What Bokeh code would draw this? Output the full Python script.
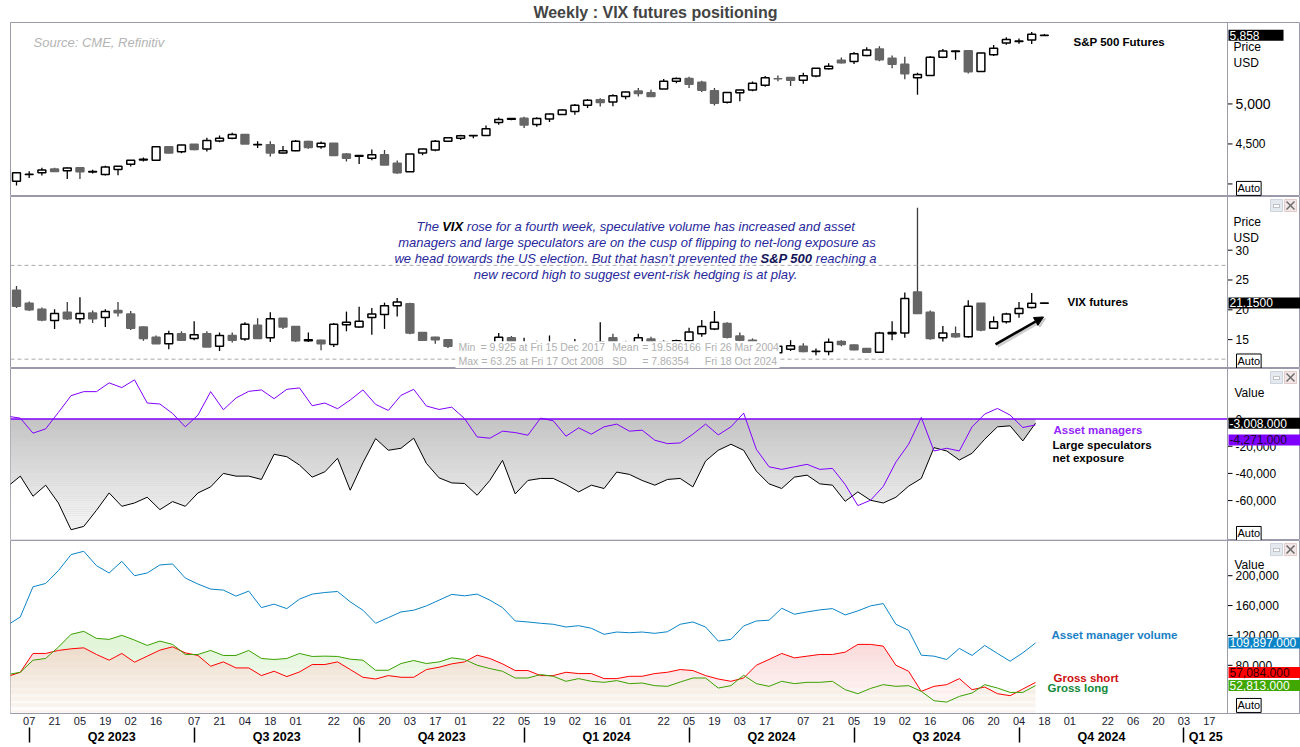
import numpy as np
import pandas as pd
from bokeh.plotting import figure
from bokeh.layouts import column
from bokeh.models import (Range1d, FixedTicker, LinearAxis, Label, Span,
                          BoxAnnotation, Arrow, NormalHead, ColumnDataSource)
from bokeh.embed import file_html
from bokeh.resources import INLINE

FONT = "Liberation Sans"
first_week = pd.Timestamp("2023-03-31")   # week-ending date of the first candle

# ---------------- S&P 500 futures, weekly OHLC ----------------
spx_open = [4033, 4118, 4139, 4186, 4164, 4202, 4150, 4118, 4182, 4246,
            4300, 4297, 4466, 4402, 4495, 4436, 4538, 4572, 4619, 4490,
            4491, 4386, 4415, 4529, 4466, 4508, 4373, 4345, 4322, 4364,
            4258, 4152, 4386, 4423, 4533, 4572, 4601, 4606, 4767, 4810,
            4822, 4742, 4813, 4869, 4907, 4983, 5051, 5025, 5093, 5161,
            5141, 5187, 5284, 5318, 5271, 5165, 5021, 5140, 5174, 5234,
            5316, 5331, 5297, 5348, 5441, 5547, 5530, 5607, 5687, 5572,
            5496, 5327, 5356, 5583, 5655, 5666, 5407, 5614, 5763, 5782,
            5798, 5856]
spx_high = [4145, 4160, 4202, 4202, 4205, 4210, 4176, 4227, 4222, 4300,
            4330, 4470, 4468, 4490, 4497, 4576, 4606, 4640, 4625, 4533,
            4533, 4475, 4550, 4540, 4530, 4510, 4385, 4358, 4432, 4424,
            4292, 4375, 4440, 4550, 4580, 4615, 4608, 4730, 4830, 4825,
            4840, 4835, 4880, 4935, 5000, 5063, 5072, 5120, 5155, 5200,
            5178, 5313, 5330, 5340, 5290, 5200, 5150, 5177, 5280, 5350,
            5356, 5335, 5390, 5450, 5510, 5580, 5650, 5708, 5720, 5606,
            5590, 5390, 5600, 5687, 5668, 5670, 5640, 5738, 5835, 5818,
            5900, 5875]
spx_low = [3979, 4075, 4106, 4150, 4063, 4063, 4130, 4106, 4110, 4217,
           4280, 4295, 4384, 4385, 4420, 4406, 4521, 4560, 4498, 4449,
           4343, 4380, 4410, 4440, 4440, 4354, 4280, 4250, 4297, 4236,
           4127, 4150, 4360, 4410, 4525, 4550, 4570, 4600, 4740, 4795,
           4700, 4715, 4775, 4865, 4865, 4950, 4968, 4970, 5060, 5093,
           5093, 5187, 5260, 5199, 5148, 4979, 5005, 5034, 5160, 5215,
           5284, 5225, 5253, 5335, 5430, 5505, 5500, 5597, 5535, 5445,
           5309, 5114, 5350, 5570, 5551, 5380, 5400, 5600, 5740, 5751,
           5750, 5850]
spx_close = [4139, 4120, 4173, 4157, 4199, 4152, 4154, 4211, 4220, 4297,
             4310, 4466, 4386, 4487, 4432, 4542, 4572, 4619, 4500, 4492,
             4386, 4415, 4533, 4457, 4508, 4356, 4322, 4356, 4364, 4237,
             4139, 4373, 4436, 4533, 4576, 4602, 4607, 4691, 4805, 4818,
             4737, 4818, 4873, 4924, 4983, 5047, 5017, 5102, 5149, 5131,
             5093, 5284, 5318, 5246, 5170, 5009, 5144, 5174, 5258, 5327,
             5314, 5297, 5352, 5445, 5471, 5514, 5628, 5674, 5551, 5496,
             5378, 5369, 5583, 5661, 5661, 5403, 5636, 5696, 5806, 5788,
             5870, 5858]

# ---------------- VIX futures, weekly OHLC ----------------
vix_open = [23.3, 21.1, 20.1, 18.2, 19.6, 18.5, 19.45, 18.7, 19.9, 19.3,
            17.1, 15.4, 14.3, 16.0, 15.2, 16.0, 13.9, 15.7, 15.1, 17.4,
            15.3, 18.6, 17.2, 14.8, 14.9, 14.2, 17.5, 17.1, 18.7, 19.2,
            20.7, 21.0, 16.2, 15.4, 15.0, 14.0, 13.6, 13.4, 13.2, 15.3,
            14.0, 14.3, 13.9, 14.4, 14.0, 14.3, 14.0, 15.3, 14.5, 14.2,
            15.1, 14.6, 14.4, 14.8, 16.0, 16.8, 17.7, 15.6, 14.9, 14.2,
            12.8, 13.4, 13.9, 13.0, 13.0, 14.7, 14.1, 13.5, 12.9, 16.0,
            16.1, 23.0, 19.6, 15.3, 16.0, 15.5, 21.1, 16.9, 18.0, 19.4,
            20.4, 21.1]
vix_high = [24.0, 21.4, 20.4, 20.1, 21.3, 22.1, 19.9, 20.1, 21.3, 19.8,
            17.2, 15.7, 16.5, 16.4, 18.1, 16.4, 16.2, 16.2, 17.9, 18.6,
            19.6, 18.6, 17.3, 16.2, 15.0, 17.8, 19.7, 20.5, 20.3, 21.2,
            22.0, 21.2, 16.2, 15.5, 15.0, 14.7, 14.2, 14.0, 16.1, 15.6,
            15.3, 14.8, 15.7, 14.7, 15.1, 14.6, 17.9, 16.0, 14.8, 16.0,
            15.5, 14.9, 15.0, 17.0, 18.3, 19.8, 17.9, 16.2, 15.2, 14.5,
            14.2, 14.9, 14.4, 13.5, 15.2, 14.9, 14.2, 13.6, 16.3, 18.1,
            22.9, 37.1, 19.9, 17.3, 17.2, 21.6, 21.1, 18.9, 19.5, 21.3,
            22.8, 21.2]
vix_low = [20.3, 19.8, 18.1, 16.8, 18.3, 17.7, 17.8, 17.1, 18.9, 16.6,
           14.8, 14.3, 13.4, 14.8, 14.9, 13.75, 13.1, 14.5, 14.8, 15.1,
           14.6, 16.8, 14.6, 14.6, 13.2, 13.75, 16.4, 17.0, 15.8, 16.8,
           18.9, 15.9, 14.8, 14.3, 13.6, 13.2, 12.9, 12.8, 13.0, 13.8,
           13.6, 13.6, 13.7, 13.8, 13.6, 13.7, 13.8, 14.2, 13.9, 14.0,
           14.3, 14.0, 14.1, 14.5, 15.5, 16.6, 15.2, 14.7, 13.9, 13.5,
           12.6, 13.1, 12.9, 12.4, 12.4, 13.9, 13.2, 12.8, 12.8, 14.9,
           15.3, 19.3, 15.0, 14.7, 15.3, 15.3, 16.4, 16.8, 17.7, 18.65,
           20.2, 21.1]
vix_close = [20.6, 20.0, 18.3, 19.4, 18.5, 19.4, 18.5, 19.7, 19.5, 16.9,
             15.2, 14.3, 16.0, 14.9, 15.8, 13.75, 15.7, 14.9, 17.6, 15.2,
             18.5, 17.1, 14.8, 15.0, 14.3, 17.6, 17.9, 18.1, 19.3, 20.7,
             21.3, 16.1, 14.9, 15.0, 13.9, 13.6, 13.3, 13.1, 15.4, 14.1,
             14.3, 13.9, 14.4, 14.0, 14.3, 14.0, 14.6, 14.5, 14.2, 15.3,
             14.6, 14.4, 14.8, 16.3, 17.2, 17.9, 15.4, 14.9, 14.2, 13.9,
             13.9, 13.97, 13.0, 13.05, 14.55, 14.2, 13.3, 12.9, 16.1, 16.2,
             21.9, 19.4, 15.2, 16.1, 15.5, 20.6, 16.6, 18.0, 19.3, 20.2,
             21.1, 21.15]
vix_min, vix_max, vix_mean, vix_sd = 9.925, 63.25, 19.586166, 7.86354

# ---------------- CFTC positioning (weekly, starting the week before the first candle) ----------------
am_net = [2100, 700, -10370, -7180, 4890, 17260, 20220, 20220, 26670, 23190,
          28890, 11850, 11110, 4150, -5700, 2960, 20220, 6890, 15550, 20440,
          21480, 15040, 21930, 22960, 9850, 11850, 7630, 14070, 21480, 10810,
          6370, 17480, 21930, 9630, 7110, 8800, 450, -13110, -14070, -8890,
          -9920, -11850, 740, -1260, -12590, -6440, -11110, -5700, -3700, -8890,
          -8150, -15550, -18070, -17550, -11110, -3700, -11630, -5700, 4440, -22220,
          -35110, -37040, -35110, -33330, -37040, -36300, -48150, -63700, -59770, -49660,
          -31630, -18520, 1190, -23480, -21480, -23480, -5700, 3700, 7850, 2960,
          -6220, -4271]
ls_net = [-49630, -42000, -56810, -48660, -61770, -81480, -79030, -67180, -54370, -64220,
          -61770, -57550, -66660, -60740, -64220, -54370, -49920, -40000, -42000, -42000,
          -44440, -25930, -27700, -33850, -42740, -38810, -28890, -52370, -32150, -14370,
          -22960, -21480, -14070, -32590, -43260, -47000, -47400, -56070, -45180, -30370,
          -55110, -45180, -43700, -43700, -48150, -53630, -48660, -51110, -39030, -40740,
          -45180, -48660, -44440, -43700, -49920, -30890, -22960, -18520, -22960, -38290,
          -47700, -51110, -42740, -41260, -47700, -48660, -60520, -53630, -59770, -61770,
          -57550, -49400, -43700, -21030, -23480, -30150, -25190, -14810, -5700, -4960,
          -16070, -3008]
am_volume = [134000, 144770, 185180, 189630, 206740, 228290, 232730, 213470, 203640, 219260,
             200000, 203640, 214410, 215760, 196900, 188820, 182080, 180740, 172660, 179390,
             157300, 161880, 155950, 168620, 175350, 177500, 178850, 164980, 153800, 136290,
             143830, 151510, 153800, 159590, 167270, 175000, 173060, 175350, 167270, 157300,
             139390, 138040, 136290, 134940, 131300, 133050, 129550, 121470, 124570, 123630,
             124570, 122820, 124970, 134940, 138040, 131300, 112450, 114730, 132650, 139390,
             140330, 156430, 148410, 151510, 154200, 155950, 147470, 152850, 159590, 162690,
             134940, 126860, 93590, 92240, 87790, 102610, 93180, 106650, 95880, 85500,
             96690, 109897]
gross_long = [67590, 70690, 86850, 89140, 104360, 121470, 125510, 116080, 114730, 120120,
              113790, 106650, 112450, 108000, 94530, 94530, 99920, 93180, 93180, 99920,
              89140, 87790, 89140, 95880, 91840, 92290, 91840, 88200, 86850, 73380,
              73380, 82400, 86450, 82400, 84560, 90000, 87790, 80120, 75670, 72040,
              63000, 63000, 67590, 65300, 58570, 62200, 58570, 57220, 59510, 55470,
              56280, 52770, 51830, 57620, 63000, 63000, 49550, 52770, 66650, 55470,
              51830, 58570, 55470, 57220, 57220, 58570, 47390, 41990, 49000, 54120,
              51830, 52770, 45100, 32570, 30770, 38360, 42900, 54120, 49550, 43750,
              43750, 52813]
gross_short = [65030, 70690, 95880, 95880, 99920, 102080, 103420, 94530, 86850, 95880,
               84160, 92240, 100320, 104770, 96690, 93180, 78770, 84560, 76480, 76480,
               66240, 72040, 64890, 71090, 81060, 81060, 84560, 74320, 63950, 61660,
               66240, 63950, 63950, 74320, 77420, 81950, 84560, 93590, 89140, 81950,
               72990, 72990, 66240, 66240, 70690, 68940, 68940, 62200, 62200, 65300,
               65300, 68940, 70690, 74320, 72990, 66240, 61660, 58570, 63000, 80120,
               87790, 95880, 89950, 92240, 94530, 94530, 97620, 108000, 108000, 105710,
               80120, 72040, 45100, 51830, 54120, 62200, 47390, 50900, 41990, 39300,
               48190, 57084]

# ---------------- axis labels ----------------
tick_dates = ["2023-04-07", "2023-04-21", "2023-05-05", "2023-05-19", "2023-06-02", "2023-06-16",
              "2023-07-07", "2023-07-21", "2023-08-04", "2023-08-18", "2023-09-01", "2023-09-22",
              "2023-10-06", "2023-10-20", "2023-11-03", "2023-11-17", "2023-12-01", "2023-12-22",
              "2024-01-05", "2024-01-19", "2024-02-02", "2024-02-16", "2024-03-01", "2024-03-22",
              "2024-04-05", "2024-04-19", "2024-05-03", "2024-05-17", "2024-06-07", "2024-06-21",
              "2024-07-05", "2024-07-19", "2024-08-02", "2024-08-16", "2024-09-06", "2024-09-20",
              "2024-10-04", "2024-10-18", "2024-11-01", "2024-11-22", "2024-12-06", "2024-12-20",
              "2025-01-03", "2025-01-17"]
quarter_starts = ["2023-04-07", "2023-07-07", "2023-10-06", "2024-01-05",
                  "2024-04-05", "2024-07-05", "2024-10-04", "2025-01-03"]
quarter_labels = ["Q2 2023", "Q3 2023", "Q4 2023", "Q1 2024", "Q2 2024", "Q3 2024", "Q4 2024", "Q1 25"]
spx_ticks = [4000, 4500, 5000]
spx_tick_labels = ["", "4,500", "5,000"]
vix_ticks = [15, 20, 25, 30]
net_ticks = [-60000, -40000, -20000, 0]
vol_ticks = [80000, 120000, 160000, 200000]

# ---------------- layout helpers ----------------
PX_PER_WEEK = 12.69


def px2wk(px):            # horizontal page pixel -> week index
    return (px - 16) / PX_PER_WEEK


def week_of(d):
    return (pd.Timestamp(d) - first_week).days / 7.0


weeks = np.arange(len(spx_close))
cot_weeks = np.arange(-1, len(am_net) - 1) + 0.3
X_LO, X_HI = px2wk(10), px2wk(1300)
AXIS_X = px2wk(1227)
tick_pos = [week_of(d) for d in tick_dates]
tick_text = [pd.Timestamp(d).strftime("%d") for d in tick_dates]
q_start = [week_of(d) for d in quarter_starts]
q_mid = [round((a + b) / 2, 3) for a, b in zip(q_start, q_start[1:] + [AXIS_X])]

GREY = "#9a9aaa"
xr = Range1d(X_LO, X_HI)


def panel(height, y0, y1, xaxis=False):
    p = figure(width=1300, height=height, x_range=xr, y_range=Range1d(y0, y1),
               output_backend="svg", toolbar_location=None,
               x_axis_location="below" if xaxis else None, y_axis_location=None,
               min_border_left=10, min_border_right=0, min_border_top=0, min_border_bottom=0,
               outline_line_color=GREY, background_fill_color="white", border_fill_color="white")
    p.grid.visible = False
    return p


def lab(p, x, y, text, size="12px", color="black", style="normal", align="left",
        bg=None, border=None, yoff=0, pad=0):
    p.add_layout(Label(x=x, y=y, text=text, text_font=FONT,
                       text_font_size=size, text_color=color, text_font_style=style,
                       text_align=align, text_baseline="middle", background_fill_color=bg,
                       border_line_color=border, y_offset=yoff, padding=pad))


def tag(p, v, text, bg, color="white", yoff=0, right=30):
    lab(p, px2wk(1228), v, text, color=color, bg=bg, yoff=yoff,
        pad=dict(left=1, right=right, top=1, bottom=1))


def value_axis(p, ticks, labels, sizes=None):
    p.add_layout(Span(location=AXIS_X, dimension="height", line_color=GREY, line_width=1))
    p.segment(x0=AXIS_X, x1=px2wk(1232), y0=ticks, y1=ticks, line_color="black", line_width=1)
    for i, (t, s) in enumerate(zip(ticks, labels)):
        if s:
            lab(p, px2wk(1235), t, s, size=(sizes[i] if sizes else "12px"))


def window_icons(p, top_px, height, y0, y1):
    def v(py):
        return y1 - (py - top_px) / height * (y1 - y0)
    t, b = v(top_px + 3), v(top_px + 15)
    p.add_layout(BoxAnnotation(left=px2wk(1270), right=px2wk(1282), top=t, bottom=b,
                               fill_color="#e4e9f0", fill_alpha=1, line_color="#7c8aa0", line_width=1))
    p.add_layout(BoxAnnotation(left=px2wk(1273), right=px2wk(1279), top=v(top_px + 8), bottom=v(top_px + 11),
                               fill_color="white", fill_alpha=1, line_color="#505050", line_width=1))
    p.add_layout(BoxAnnotation(left=px2wk(1284), right=px2wk(1296), top=t, bottom=b,
                               fill_color="#f2e6e6", fill_alpha=1, line_color="#b07070", line_width=1))
    for ya, yb in ((top_px + 5, top_px + 13), (top_px + 13, top_px + 5)):
        p.add_layout(Arrow(end=None, x_start=px2wk(1286), y_start=v(ya), x_end=px2wk(1294), y_end=v(yb),
                           line_color="#6a6a6a", line_width=1.5))


def hline(p, v, **kw):
    p.line([X_LO, AXIS_X], [v, v], **kw)


def candles(p, o, h, l, c, lw):
    o = np.asarray(o, float)
    c = np.asarray(c, float)
    up = c >= o
    src = ColumnDataSource(dict(
        x=weeks, top=np.maximum(o, c), bottom=np.minimum(o, c), high=h, low=l,
        fill=["white" if u else "#666666" for u in up],
        line=["black" if u else "#666666" for u in up],
        wick=["black" if u else "#3c3c3c" for u in up]))
    p.segment(x0="x", y0="low", x1="x", y1="high", line_color="wick", line_width=1.3, source=src)
    p.vbar(x="x", width=0.62, top="top", bottom="bottom", fill_color="fill",
           line_color="line", line_width=lw, source=src)


def fade(p, v_top, v_bottom, n=60):
    edges = np.linspace(v_top, v_bottom, n + 1)
    alphas = np.linspace(0, 1, n + 1)[1:]
    p.quad(left=X_LO, right=AXIS_X, top=edges[:-1], bottom=edges[1:], fill_color="white",
           fill_alpha=alphas, line_color=None)


# ================= Panel 1: S&P 500 =================
p1 = panel(196, 3843, 6018)
p1.title.text = "Weekly : VIX futures positioning"
p1.title.align = "center"
p1.title.text_font = FONT
p1.title.text_font_size = "16px"
p1.title.text_font_style = "bold"
p1.title.standoff = 3
p1.title.offset = -6
candles(p1, spx_open, spx_high, spx_low, spx_close, 1.5)
value_axis(p1, spx_ticks, spx_tick_labels, ["12px", "12px", "14px"])
lab(p1, px2wk(33), 5763, "Source: CME, Refinitiv", size="13px", color="#b4b4b4", style="italic")
lab(p1, px2wk(1073), 5776, "S&P 500 Futures", size="11.5px", style="bold")
lab(p1, px2wk(1233), 5712, "Price")
lab(p1, px2wk(1233), 5509, "USD")
lab(p1, px2wk(1236), 3944, "Auto", size="11px", bg="white", border="black", pad=1)
tag(p1, spx_close[-1], f"{spx_close[-1]:,}", "black", right=24)

# ================= Panel 2: VIX =================
P2 = (196, 172, 10.16, 39.0)
p2 = panel(172, 10.16, 39.0)
candles(p2, vix_open, vix_high, vix_low, vix_close, 1.5)
p2.add_layout(BoxAnnotation(left=px2wk(455), right=px2wk(779), bottom=10.16, top=14.75,
                            fill_color="white", fill_alpha=1.0, line_alpha=0))
for lvl in (vix_mean + vix_sd, vix_mean - vix_sd):
    hline(p2, lvl, line_color="#aaaaaa", line_dash="4 3", line_width=1)
value_axis(p2, vix_ticks, [str(t) for t in vix_ticks])
NAVY = "#28289c"
lab(p2, px2wk(438.5), 33.94, "The", size="13px", color=NAVY, style="italic", align="right")
lab(p2, px2wk(441.7), 33.94, "VIX", size="13px", color="black", style="bold italic")
lab(p2, px2wk(466.3), 33.94, "rose for a fourth week, speculative volume has increased and asset",
    size="13px", color=NAVY, style="italic")
lab(p2, px2wk(636.5), 31.24, "managers and large speculators are on the cusp of flipping to net-long exposure as",
    size="13px", color=NAVY, style="italic", align="center")
lab(p2, px2wk(757), 28.59, "we head towards the US election. But that hasn't prevented the",
    size="13px", color=NAVY, style="italic", align="right")
lab(p2, px2wk(760), 28.59, "S&P 500", size="13px", color="#14145a", style="bold italic")
lab(p2, px2wk(815.3), 28.59, "reaching a", size="13px", color=NAVY, style="italic")
lab(p2, px2wk(635), 25.96, "new record high to suggest event-risk hedging is at play.",
    size="13px", color=NAVY, style="italic", align="center")
STAT = "#b0b0b0"
lab(p2, px2wk(458), 13.70, "Min", size="10.5px", color=STAT)
lab(p2, px2wk(480), 13.70, f"= {vix_min} at Fri 15 Dec 2017", size="10.5px", color=STAT)
lab(p2, px2wk(458), 11.34, f"Max = {vix_max} at Fri 17 Oct 2008", size="10.5px", color=STAT)
lab(p2, px2wk(611.7), 13.70, "Mean", size="10.5px", color=STAT)
lab(p2, px2wk(611.7), 11.34, "SD", size="10.5px", color=STAT)
lab(p2, px2wk(641.7), 13.70, f"= {vix_mean}", size="10.5px", color=STAT)
lab(p2, px2wk(641.7), 11.34, f"= {vix_sd}", size="10.5px", color=STAT)
lab(p2, px2wk(704.3), 13.70, "Fri 26 Mar 2004", size="10.5px", color=STAT)
lab(p2, px2wk(704.3), 11.34, "Fri 18 Oct 2024", size="10.5px", color=STAT)
p2.add_layout(Arrow(end=NormalHead(size=9, fill_color="#a0a0a0", line_color="#a0a0a0",
                                   fill_alpha=0.5, line_alpha=0.5),
                    x_start=px2wk(997), y_start=13.9, x_end=px2wk(1045), y_end=18.5,
                    line_color="#a0a0a0", line_alpha=0.5, line_width=3))
p2.add_layout(Arrow(end=NormalHead(size=9, fill_color="black", line_color="black"),
                    x_start=px2wk(995), y_start=14.2, x_end=px2wk(1043), y_end=18.8,
                    line_color="black", line_width=2.5))
lab(p2, px2wk(1067), 21.3, "VIX futures", size="11.5px", style="bold")
lab(p2, px2wk(1233), 34.78, "Price")
lab(p2, px2wk(1233), 32.08, "USD")
lab(p2, px2wk(1236), 11.42, "Auto", size="11px", bg="white", border="black", pad=1)
tag(p2, vix_close[-1], f"{vix_close[-1]:.4f}", "black")
window_icons(p2, 196, 172, 10.16, 39.0)

# ================= Panel 3: net exposure =================
PURPLE = "#8000ff"
p3 = panel(172, -89400, 37260)
p3.varea(x=cot_weeks, y1=0, y2=ls_net, fill_color="#c4c4c4")
fade(p3, 0, -95000)
p3.line(cot_weeks, ls_net, line_color="black", line_width=1)
p3.line(cot_weeks, am_net, line_color=PURPLE, line_width=1)
hline(p3, 0, line_color=PURPLE, line_width=1.5)
value_axis(p3, net_ticks, [f"{t:,}" for t in net_ticks])
lab(p3, px2wk(1053), -7925, "Asset managers", size="11.5px", style="bold", color="#9426ff")
lab(p3, px2wk(1052), -19040, "Large speculators", size="11.5px", style="bold")
lab(p3, px2wk(1052), -28670, "net exposure", size="11.5px", style="bold")
lab(p3, px2wk(1234), 19480, "Value")
lab(p3, px2wk(1236), -84220, "Auto", size="11px", bg="white", border="black", pad=1)
tag(p3, ls_net[-1], f"{ls_net[-1]:,.3f}", "black")
tag(p3, am_net[-1], f"{am_net[-1]:,.3f}", PURPLE, color="#1a0030", yoff=-15)
window_icons(p3, 368, 172, -89400, 37260)

# ================= Panel 4: gross positions =================
p4 = panel(206, 15460, 247150, xaxis=True)
low_edge = np.minimum(np.asarray(gross_long), np.asarray(gross_short))
p4.varea(x=cot_weeks, y1=15460, y2=low_edge, fill_color="#ecd9c6")
p4.varea(x=cot_weeks, y1=low_edge, y2=gross_long, fill_color="#e2f5d8")
p4.varea(x=cot_weeks, y1=low_edge, y2=gross_short, fill_color="#fbdada")
fade(p4, 110000, 15000)
p4.line(cot_weeks, am_volume, line_color="#0a84c6", line_width=1)
p4.line(cot_weeks, gross_short, line_color="#ff0000", line_width=1)
p4.line(cot_weeks, gross_long, line_color="#3aa000", line_width=1)
value_axis(p4, vol_ticks, [f"{t:,}" for t in vol_ticks])
lab(p4, px2wk(1051), 120530, "Asset manager volume", size="11.5px", style="bold", color="#1a80c4")
lab(p4, px2wk(1053), 62600, "Gross short", size="11.5px", style="bold", color="#cc1111")
lab(p4, px2wk(1047), 49140, "Gross long", size="11.5px", style="bold", color="#138a3a")
lab(p4, px2wk(1234), 214800, "Value")
lab(p4, px2wk(1236), 26240, "Auto", size="11px", bg="white", border="black", pad=1)
tag(p4, am_volume[-1], f"{am_volume[-1]:,.3f}", "#0a84c6")
tag(p4, gross_short[-1], f"{gross_short[-1]:,.3f}", "#ff0000", color="#300000", yoff=10)
tag(p4, gross_long[-1], f"{gross_long[-1]:,.3f}", "#40a800")
window_icons(p4, 540, 172, 15460, 247150)

xa = p4.xaxis[0]
xa.ticker = FixedTicker(ticks=tick_pos)
xa.major_label_overrides = dict(zip(tick_pos, tick_text))
xa.axis_line_color = GREY
xa.major_tick_out = 0
xa.major_tick_in = 0
xa.minor_tick_line_color = None
xa.major_label_text_font = FONT
xa.major_label_text_font_size = "11px"
xa.major_label_text_color = "#202030"
xa.major_label_standoff = 3

qa = LinearAxis(ticker=FixedTicker(ticks=q_mid, minor_ticks=q_start),
                major_label_overrides=dict(zip(q_mid, quarter_labels)),
                axis_line_color=None, major_tick_out=0, major_tick_in=0,
                minor_tick_out=15, minor_tick_in=0, minor_tick_line_color="black",
                minor_tick_line_width=1.5, major_label_text_font=FONT,
                major_label_text_font_size="12.5px", major_label_text_font_style="bold",
                major_label_text_color="black", major_label_standoff=-13)
p4.add_layout(qa, "below")

layout = column(p1, p2, p3, p4, spacing=0)
open("out.html", "w").write(file_html(layout, INLINE, "Weekly : VIX futures positioning"))
